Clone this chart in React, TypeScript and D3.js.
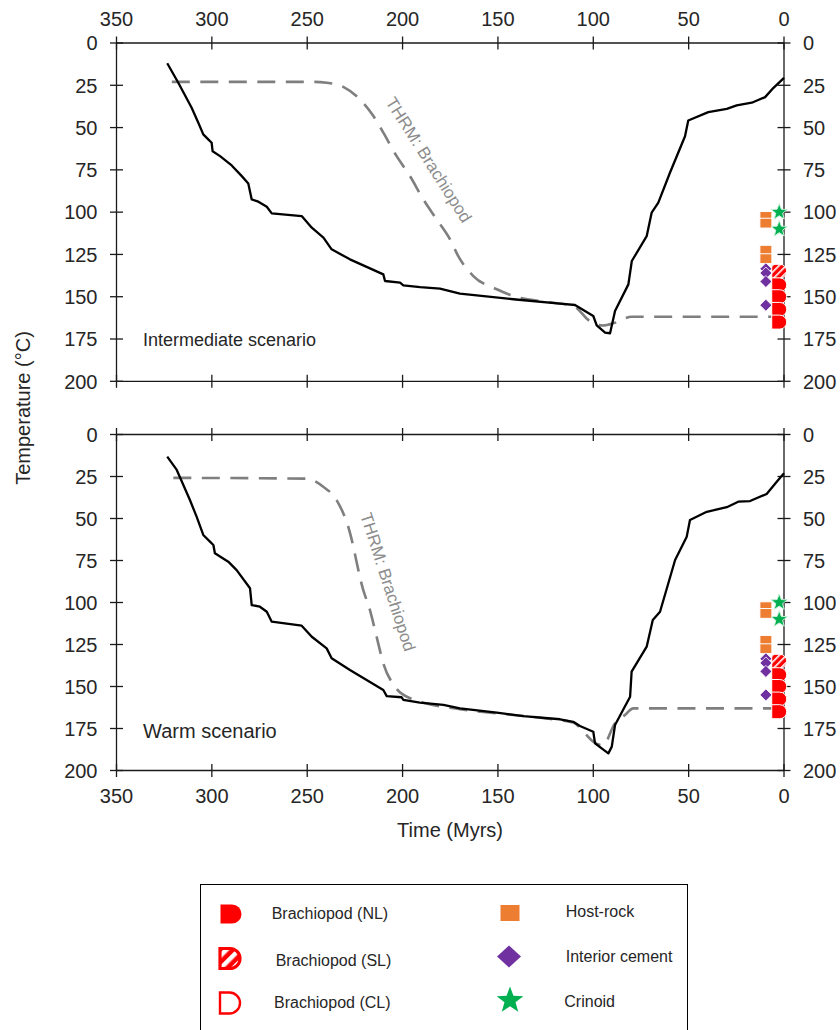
import React from "react";
import * as d3 from "d3";

// ---------- DATA ----------
const xTickValues = [350, 300, 250, 200, 150, 100, 50, 0];
const yTickValues = [0, 25, 50, 75, 100, 125, 150, 175, 200];

// Intermediate scenario burial curve (time Myr, temperature °C)
const intermediateTime = [323.4, 317.6, 310.6, 307.1, 304.5, 301.9, 300.1, 299.6, 295.7, 289.6, 284.3, 280.9, 279.1, 275.6, 271.2, 268.6, 252.9, 247.6, 241.5, 237.2, 227.6, 210.1, 209.2, 201.3, 199.6, 190.8, 180.4, 169.9, 141.9, 117.4, 109.6, 100, 98.2, 93.8, 91.2, 88.6, 81.6, 79.8, 72, 69.4, 65.9, 59.8, 51.9, 50.2, 39.7, 30, 24.8, 16.9, 9.9, 5.5, 0];
const intermediateTemp = [12, 23.5, 38.3, 47.2, 54, 57, 59, 64, 66.9, 72.4, 78.7, 83, 92.5, 93.8, 96.8, 100.7, 102.3, 109.2, 115.1, 122, 127.9, 136.8, 140.7, 141.7, 143.3, 144.3, 145.2, 148.2, 151.5, 154.1, 154.9, 161.4, 166.9, 171.2, 171.6, 158.5, 142.7, 128.9, 114.2, 100.3, 94.4, 76.7, 55.1, 45.8, 40.9, 38.9, 36.9, 35.3, 32, 26.5, 20.6];

// Intermediate scenario THRM (brachiopod)
const intermediateThrmTime = [321, 246.8, 239.8, 231.1, 223.2, 215.3, 210.1, 203.1, 196.1, 189.1, 182.1, 175.1, 170.8, 162.9, 150.6, 140.2, 125, 110.5, 101.8, 95, 88.6, 79.8, 3];
const intermediateThrmTemp = [23, 23, 23.5, 25.9, 32.4, 43.2, 53, 66.9, 78.7, 92.5, 104.3, 116.1, 126, 137.8, 145.6, 150.2, 153, 155.5, 164.4, 167, 165.4, 161.8, 161.8];

// Warm scenario burial curve
const warmTime = [323.4, 318.4, 311.5, 308, 304.5, 301, 299.2, 298.4, 291.4, 287, 280, 279.1, 274.8, 271.2, 268.6, 252.9, 247.6, 239.8, 237.2, 227.6, 210.1, 208.3, 200.5, 199.6, 190.9, 178.6, 169.9, 150.6, 136.7, 117.4, 110.5, 107, 100, 99.1, 95.6, 92.1, 90.3, 88.6, 80.7, 79.9, 72, 68.8, 65, 57.1, 51, 49.3, 40.5, 30, 24, 17.8, 9.1, 3.8, 0];
const warmTemp = [13.2, 21.1, 39, 48.9, 59.8, 63.8, 65.8, 70.7, 75.7, 80.7, 91.5, 101.5, 102.5, 105.5, 111.4, 113.8, 120.4, 127.3, 133.2, 140.2, 152.1, 155.7, 156.4, 158, 159.6, 161, 163, 165.6, 167.6, 169.5, 171, 173.5, 176.9, 183.8, 186.8, 189.8, 185.8, 172.9, 156.1, 141.2, 126.3, 110.4, 105.5, 74.7, 60.8, 50.9, 46, 43.3, 40, 39.6, 35.4, 28.1, 23.1];

// Warm scenario THRM (brachiopod)
const warmThrmTime = [320.2, 250.3, 241.6, 234.6, 228.5, 220.6, 217.1, 213.6, 210.1, 204, 196.1, 169.9, 150.6, 125, 110.5, 104.4, 100, 95, 88.6, 83.4, 79, 3];
const warmThrmTemp = [25.8, 26.3, 31.1, 39, 54.9, 92.6, 104.5, 120.4, 136.2, 150.1, 157, 163.5, 166, 169, 171.5, 177.9, 182.9, 185, 171.9, 166.9, 163, 163];

// Measured samples (same in both panels)
const hostRockTime = [9.5, 9.5, 9.5, 9.5];
const hostRockTemp = [102.5, 106.5, 122.5, 127.5];
const cementTime = [9.5, 9.5, 9.5, 9.5];
const cementTemp = [133.5, 136, 141, 155];
const crinoidTime = [2.5, 2.5];
const crinoidTemp = [100, 110];
const brachSLTime = [2.5];
const brachSLTemp = [135];
const brachNLTime = [2.5, 2.5, 2.5, 2.5];
const brachNLTemp = [143, 150, 157.5, 165];

const scenarioLabels = ["Intermediate scenario", "Warm scenario"];

// ---------- STYLE ----------
const FONT = "'Liberation Sans', Arial, Helvetica, sans-serif";
const RED = "#ff0000";
const ORANGE = "#ed7d31";
const PURPLE = "#7030a0";
const GREEN = "#00b050";
const GRAY = "#7f7f7f";
const AXIS = "#1a1a1a";
const TEXT = "#262626";

function starPath(R: number, r: number) {
  const pts: string[] = [];
  for (let i = 0; i < 10; i++) {
    const a = -Math.PI / 2 + (i * Math.PI) / 5;
    const rr = i % 2 === 0 ? R : r;
    pts.push(`${(rr * Math.cos(a)).toFixed(2)},${(rr * Math.sin(a)).toFixed(2)}`);
  }
  return "M" + pts.join("L") + "Z";
}
function dPath(w: number, h: number) {
  const r = h / 2;
  const xl = -w / 2;
  const xs = w / 2 - r;
  return `M${xl},${-r}H${xs}A${r},${r} 0 0 1 ${xs},${r}H${xl}Z`;
}
function diamondPath(rx: number, ry: number) {
  return `M0,${-ry}L${rx},0L0,${ry}L${-rx},0Z`;
}

const xScale = d3.scaleLinear().domain([350, 0]).range([116.5, 784]);

const panels = [
  {
    y: d3.scaleLinear().domain([0, 200]).range([43, 381.3]),
    time: intermediateTime,
    temp: intermediateTemp,
    thrmTime: intermediateThrmTime,
    thrmTemp: intermediateThrmTemp,
    label: scenarioLabels[0],
    labelSize: 18,
    thrmLabel: { x: 428.5, y: 160, angle: 57.5 },
    topLabels: true,
    bottomLabels: false,
  },
  {
    y: d3.scaleLinear().domain([0, 200]).range([434.5, 770.5]),
    time: warmTime,
    temp: warmTemp,
    thrmTime: warmThrmTime,
    thrmTemp: warmThrmTemp,
    label: scenarioLabels[1],
    labelSize: 20,
    thrmLabel: { x: 387.5, y: 582, angle: 72 },
    topLabels: false,
    bottomLabels: true,
  },
];

function makePath(times: number[], temps: number[], y: d3.ScaleLinear<number, number>, curve: d3.CurveFactory) {
  const idx = d3.range(times.length);
  return (
    d3
      .line<number>()
      .x((i) => xScale(times[i]))
      .y((i) => y(temps[i]))
      .curve(curve)(idx) || ""
  );
}

function Panel({ p }: { p: (typeof panels)[number] }) {
  const y = p.y;
  const [x0, x1] = xScale.range();
  const [yt, yb] = y.range();
  const tk = 6.5;
  return (
    <g>
      {/* frame */}
      <line x1={x0} x2={x1} y1={yt} y2={yt} stroke={AXIS} strokeWidth={1.3} />
      <line x1={x0} x2={x1} y1={yb} y2={yb} stroke={AXIS} strokeWidth={1.3} />
      <line x1={x0} x2={x0} y1={yt} y2={yb} stroke={AXIS} strokeWidth={1.3} />
      <line x1={x1} x2={x1} y1={yt} y2={yb} stroke={AXIS} strokeWidth={1.3} />
      {xTickValues.map((t) => (
        <g key={"xt" + t}>
          <line x1={xScale(t)} x2={xScale(t)} y1={yt - tk} y2={yt + tk} stroke={AXIS} strokeWidth={1.3} />
          <line x1={xScale(t)} x2={xScale(t)} y1={yb - tk} y2={yb + tk} stroke={AXIS} strokeWidth={1.3} />
          {p.topLabels && (
            <text x={xScale(t)} y={yt - 17} textAnchor="middle" fontSize={20} fill={TEXT}>
              {t}
            </text>
          )}
          {p.bottomLabels && (
            <text x={xScale(t)} y={yb + 32} textAnchor="middle" fontSize={20} fill={TEXT}>
              {t}
            </text>
          )}
        </g>
      ))}
      {yTickValues.map((v) => (
        <g key={"yt" + v}>
          <line x1={x0 - tk} x2={x0 + tk} y1={y(v)} y2={y(v)} stroke={AXIS} strokeWidth={1.3} />
          <line x1={x1 - tk} x2={x1 + tk} y1={y(v)} y2={y(v)} stroke={AXIS} strokeWidth={1.3} />
          <text x={97.5} y={y(v) + 7.3} textAnchor="end" fontSize={20} fill={TEXT}>
            {v}
          </text>
          <text x={803} y={y(v) + 7.3} textAnchor="start" fontSize={20} fill={TEXT}>
            {v}
          </text>
        </g>
      ))}
      {/* THRM dashed */}
      <path
        d={makePath(p.thrmTime, p.thrmTemp, y, d3.curveMonotoneX)}
        fill="none"
        stroke={GRAY}
        strokeWidth={2.6}
        strokeDasharray="18 10.5"
      />
      {/* burial curve */}
      <path
        d={makePath(p.time, p.temp, y, d3.curveLinear)}
        fill="none"
        stroke="#000"
        strokeWidth={2.3}
        strokeLinejoin="round"
      />
      <text
        transform={`translate(${p.thrmLabel.x},${p.thrmLabel.y}) rotate(${p.thrmLabel.angle})`}
        textAnchor="middle"
        dominantBaseline="central"
        fontSize={17}
        fill="#8c8c8c"
      >
        THRM: Brachiopod
      </text>
      <text x={143} y={yt + 303} fontSize={p.labelSize} fill={TEXT}>
        {p.label}
      </text>
      {/* samples */}
      {hostRockTime.map((t, i) => (
        <rect
          key={"hr" + i}
          x={xScale(t) - 6}
          y={y(hostRockTemp[i]) - 4.9}
          width={12}
          height={9.8}
          fill={ORANGE}
          stroke="#fff"
          strokeWidth={1}
        />
      ))}
      {cementTime.map((t, i) => (
        <path
          key={"ic" + i}
          transform={`translate(${xScale(t)},${y(cementTemp[i])})`}
          d={diamondPath(6, 6)}
          fill={PURPLE}
          stroke="#fff"
          strokeWidth={0.8}
        />
      ))}
      {crinoidTime.map((t, i) => (
        <path
          key={"cr" + i}
          transform={`translate(${xScale(t)},${y(crinoidTemp[i])})`}
          d={starPath(8.5, 3.6)}
          fill={GREEN}
          stroke="#c8efd8"
          strokeWidth={1}
        />
      ))}
      {brachSLTime.map((t, i) => (
        <path
          key={"sl" + i}
          transform={`translate(${xScale(t)},${y(brachSLTemp[i])})`}
          d={dPath(15, 14)}
          fill="url(#hatchSmall)"
          stroke="#fff"
          strokeWidth={1}
        />
      ))}
      {brachNLTime.map((t, i) => (
        <path
          key={"nl" + i}
          transform={`translate(${xScale(t)},${y(brachNLTemp[i])})`}
          d={dPath(15, 14)}
          fill={RED}
          stroke="#fff"
          strokeWidth={1}
        />
      ))}
    </g>
  );
}

function Legend() {
  const left = [
    { label: "Brachiopod (NL)", mx: 231, my: 914, tx: 271.7, ty: 919, kind: "NL" },
    { label: "Brachiopod (SL)", mx: 230, my: 958.5, tx: 275.7, ty: 965.5, kind: "SL" },
    { label: "Brachiopod (CL)", mx: 230, my: 1003, tx: 274, ty: 1008, kind: "CL" },
  ];
  const right = [
    { label: "Host-rock", mx: 510, my: 913, tx: 565.7, ty: 916.5, kind: "HR" },
    { label: "Interior cement", mx: 509, my: 956.5, tx: 565.7, ty: 961.5, kind: "IC" },
    { label: "Crinoid", mx: 510, my: 1000.5, tx: 564.3, ty: 1007, kind: "CR" },
  ];
  const marker = (kind: string) => {
    switch (kind) {
      case "NL":
        return <path d={dPath(21, 19)} fill={RED} />;
      case "SL":
        return <path d={dPath(20, 20)} fill="url(#hatchBig)" stroke={RED} strokeWidth={3.2} />;
      case "CL":
        return <path d={dPath(20, 21)} fill="#fff" stroke={RED} strokeWidth={2.4} />;
      case "HR":
        return <rect x={-9.5} y={-8} width={19} height={16} fill={ORANGE} />;
      case "IC":
        return <path d={diamondPath(12, 11)} fill={PURPLE} />;
      default:
        return <path d={starPath(14, 5.8)} fill={GREEN} />;
    }
  };
  return (
    <g>
      <rect x={200.5} y={884.5} width={487} height={170} fill="#fff" stroke="#000" strokeWidth={1} />
      {[...left, ...right].map((it) => (
        <g key={it.label}>
          <g transform={`translate(${it.mx},${it.my})`}>{marker(it.kind)}</g>
          <text x={it.tx} y={it.ty} fontSize={16} fill={TEXT}>
            {it.label}
          </text>
        </g>
      ))}
    </g>
  );
}

export default function App() {
  return (
    <svg
      width={840}
      height={1030}
      viewBox="0 0 840 1030"
      style={{ position: "absolute", left: 0, top: 0, background: "#fff" }}
      fontFamily={FONT}
    >
      <defs>
        <pattern id="hatchSmall" patternUnits="userSpaceOnUse" width={5} height={5} patternTransform="rotate(45)">
          <rect width={5} height={5} fill={RED} />
          <rect x={0} y={0} width={1.6} height={5} fill="#fff" />
        </pattern>
        <pattern id="hatchBig" patternUnits="userSpaceOnUse" width={9} height={9} patternTransform="rotate(45)">
          <rect width={9} height={9} fill="#fff" />
          <rect x={2.5} y={0} width={4.5} height={9} fill={RED} />
        </pattern>
      </defs>
      <rect width={840} height={1030} fill="#fff" />
      {panels.map((p, i) => (
        <Panel key={i} p={p} />
      ))}
      <text x={450} y={837} textAnchor="middle" fontSize={20} fill={TEXT}>
        Time (Myrs)
      </text>
      <text
        transform="translate(23,408) rotate(-90)"
        textAnchor="middle"
        dominantBaseline="central"
        fontSize={20}
        fill={TEXT}
      >
        Temperature (°C)
      </text>
      <Legend />
    </svg>
  );
}
